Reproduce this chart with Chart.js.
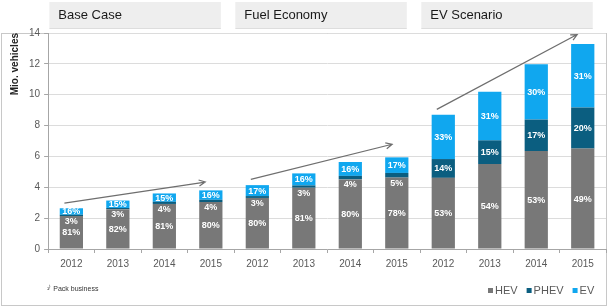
<!DOCTYPE html>
<html>
<head>
<meta charset="utf-8">
<script src="https://cdn.jsdelivr.net/npm/chart.js@4"></script>
<style>
  html, body { margin: 0; padding: 0; background: #fff; }
  #wrap { position: relative; width: 609px; height: 307px; }
</style>
</head>
<body>
<div id="wrap"><canvas id="chart" width="609" height="307"></canvas></div>
<script>
// categories
const years = ['2012', '2013', '2014', '2015', '2012', '2013', '2014', '2015', '2012', '2013', '2014', '2015'];
const scenarios = ['Base Case', 'Fuel Economy', 'EV Scenario'];
const seriesNames = ['HEV', 'PHEV', 'EV'];
const seriesColors = ['#787878', '#0b5e80', '#10a7ef'];

// segment values (Mio. vehicles)
const hevValues = [2.14, 2.57, 2.92, 3.04, 3.31, 3.97, 4.51, 4.63, 4.61, 5.51, 6.35, 6.51];
const phevValues = [0.08, 0.09, 0.14, 0.15, 0.12, 0.15, 0.23, 0.30, 1.22, 1.53, 2.04, 2.66];
const evValues = [0.42, 0.48, 0.54, 0.61, 0.71, 0.78, 0.90, 1.01, 2.87, 3.16, 3.59, 4.11];

// share labels printed in the bars
const hevLabels = ['81%', '82%', '81%', '80%', '80%', '81%', '80%', '78%', '53%', '54%', '53%', '49%'];
const phevLabels = ['3%', '3%', '4%', '4%', '3%', '3%', '4%', '5%', '14%', '15%', '17%', '20%'];
const evLabels = ['16%', '15%', '15%', '16%', '17%', '16%', '16%', '17%', '33%', '31%', '30%', '31%'];

// trend arrows per scenario: [xIndexStart, yStart, xIndexEnd, yEnd]
const arrows = [
    [-0.15, 2.97, 2.88, 4.34],
    [3.86, 4.51, 6.9, 6.79],
    [7.86, 9.05, 10.88, 13.9]
];

const grey = '#595959';
const font = 'Arial, "Liberation Sans", sans-serif';

// labels inside the bar segments
const segmentLabels = {
    id: 'segmentLabels',
    afterDatasetsDraw(chart) {
        const ctx = chart.ctx;
        const labelSets = [hevLabels, phevLabels, evLabels];
        ctx.save();
        ctx.font = 'bold 9px ' + font;
        ctx.fillStyle = '#fff';
        ctx.textAlign = 'center';
        ctx.textBaseline = 'middle';
        chart.data.datasets.forEach((ds, d) => {
            const meta = chart.getDatasetMeta(d);
            meta.data.forEach((bar, i) => {
                const top = Math.min(bar.y, bar.base);
                const bottom = Math.max(bar.y, bar.base);
                let y = (top + bottom) / 2;
                // thin PHEV slices get their label just underneath
                if (d === 1 && bottom - top < 10) y = bottom + 5;
                ctx.fillText(labelSets[d][i], bar.x, y + 0.5);
            });
        });
        ctx.restore();
    }
};

// frame, scenario headers, arrows, footnote, legend
const decorations = {
    id: 'decorations',
    beforeDraw(chart) {
        const ctx = chart.ctx;
        const x = chart.scales.x;
        ctx.save();
        ctx.strokeStyle = '#c8c8c8';
        ctx.lineWidth = 1;
        ctx.strokeRect(1.5, 33.5, 605, 272);

        scenarios.forEach((name, s) => {
            const left = x.getPixelForValue(s * 4) - 22;
            const right = x.getPixelForValue(s * 4 + 3) + 10;
            ctx.fillStyle = '#eeeeee';
            ctx.fillRect(left, 2, right - left, 26);
            ctx.fillStyle = '#dddddd';
            ctx.fillRect(left, 28, right - left, 1);
            ctx.fillStyle = '#1a1a1a';
            ctx.font = '13px ' + font;
            ctx.textBaseline = 'middle';
            ctx.fillText(name, left + 9, 15);
        });

        ctx.fillStyle = '#333';
        ctx.font = '7px ' + font;
        ctx.textBaseline = 'middle';
        ctx.fillText('\u00b9\u207e Pack business', 47, 289);

        // legend
        ctx.font = '11px ' + font;
        let lx = 488;
        seriesNames.forEach((name, i) => {
            ctx.fillStyle = seriesColors[i];
            ctx.fillRect(lx, 288, 5, 5);
            ctx.fillStyle = grey;
            ctx.fillText(name, lx + 7, 291);
            lx += 7 + ctx.measureText(name).width + 9;
        });
        ctx.restore();
    },
    afterDraw(chart) {
        const ctx = chart.ctx;
        const x = chart.scales.x;
        const y = chart.scales.y;
        ctx.save();
        ctx.strokeStyle = '#6e6e6e';
        ctx.lineWidth = 1.2;
        arrows.forEach(a => {
            const x1 = x.getPixelForValue(a[0]), y1 = y.getPixelForValue(a[1]);
            const x2 = x.getPixelForValue(a[2]), y2 = y.getPixelForValue(a[3]);
            const ang = Math.atan2(y2 - y1, x2 - x1);
            ctx.beginPath();
            ctx.moveTo(x1, y1);
            ctx.lineTo(x2, y2);
            ctx.moveTo(x2 - 7 * Math.cos(ang - 0.45), y2 - 7 * Math.sin(ang - 0.45));
            ctx.lineTo(x2, y2);
            ctx.lineTo(x2 - 7 * Math.cos(ang + 0.45), y2 - 7 * Math.sin(ang + 0.45));
            ctx.stroke();
        });
        ctx.restore();
    }
};

const ctx = document.getElementById('chart').getContext('2d');
new Chart(ctx, {
    type: 'bar',
    data: {
        labels: years,
        datasets: [
            { label: seriesNames[0], data: hevValues, backgroundColor: seriesColors[0] },
            { label: seriesNames[1], data: phevValues, backgroundColor: seriesColors[1] },
            { label: seriesNames[2], data: evValues, backgroundColor: seriesColors[2] }
        ]
    },
    options: {
        responsive: false,
        animation: false,
        layout: { padding: { top: 33, right: 3, left: 6, bottom: 32 } },
        datasets: {
            bar: { categoryPercentage: 1, barPercentage: 0.5 }
        },
        plugins: {
            legend: { display: false },
            tooltip: { enabled: false }
        },
        scales: {
            x: {
                stacked: true,
                grid: { drawOnChartArea: false, drawTicks: true, tickLength: 4, color: '#a6a6a6' },
                border: { color: '#a6a6a6' },
                ticks: {
                    color: grey,
                    padding: 5,
                    maxRotation: 0,
                    font: { family: font, size: 10 }
                }
            },
            y: {
                stacked: true,
                min: 0,
                max: 14,
                ticks: {
                    stepSize: 2,
                    color: grey,
                    padding: 4,
                    font: { family: font, size: 10 }
                },
                grid: { color: '#dcdcdc', tickLength: 4, tickColor: '#a6a6a6' },
                border: { color: '#a6a6a6' },
                title: {
                    display: true,
                    text: 'Mio. vehicles',
                    align: 'end',
                    color: '#222',
                    padding: { top: 3, bottom: 4 },
                    font: { family: font, size: 10, weight: 'bold' }
                }
            }
        }
    },
    plugins: [decorations, segmentLabels]
});
</script>
</body>
</html>
